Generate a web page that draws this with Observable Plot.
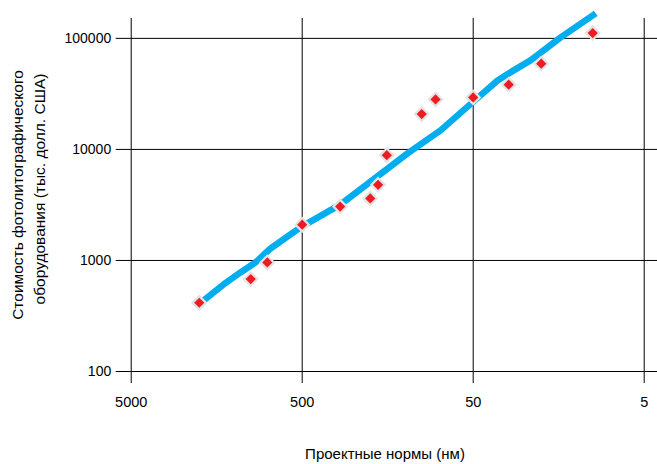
<!DOCTYPE html>
<html>
<head>
<meta charset="utf-8">
<script src="https://cdn.jsdelivr.net/npm/d3@7"></script>
<script src="https://cdn.jsdelivr.net/npm/@observablehq/plot@0.6"></script>
<style>
  html, body { margin: 0; padding: 0; background: #fff; }
  svg { display: block; }
</style>
</head>
<body>
<div id="chart"></div>
<script>
// Data
const nodeNm   = [2000, 1000, 800, 500, 300, 200, 180, 160, 100, 83, 50, 31, 20, 10];
const costKUsd = [416, 680, 960, 2100, 3060, 3620, 4800, 8870, 20800, 28200, 29400, 38300, 59200, 111600];

// Trend line (blue)
const trendNm   = [1888, 1442, 1148, 938, 766, 512, 298, 121, 77.6, 50.5, 36, 29, 23.1, 15.4, 9.6];
const trendCost = [436, 608, 780, 959, 1282, 1983, 3196, 9205, 14830, 26500, 41800, 51500, 63400, 102000, 168000];

const xTicks = [5000, 500, 50, 5];
const xTickLabels = ["5000", "500", "50", "5"];
const yTicks = [100, 1000, 10000, 100000];
const yTickLabels = ["100", "1000", "10000", "100000"];

const xTitle = "Проектные нормы (нм)";
const yTitle1 = "Стоимость фотолитографического";
const yTitle2 = "оборудования (тыс. долл. США)";

const points = nodeNm.map((d, i) => ({nm: d, cost: costKUsd[i]}));
const trend = trendNm.map((d, i) => ({nm: d, cost: trendCost[i]}));
const xTickData = xTicks.map((d, i) => ({v: d, label: xTickLabels[i]}));
const yTickData = yTicks.map((d, i) => ({v: d, label: yTickLabels[i]}));

const svg = Plot.plot({
  width: 657,
  height: 464,
  marginLeft: 130.7,
  marginRight: 0,
  marginTop: 18,
  marginBottom: 93,
  style: {fontFamily: "Liberation Sans, Arial, sans-serif", background: "#fff", color: "#000"},
  x: {type: "log", domain: [5000, 4.18], axis: null},
  y: {type: "log", domain: [100, 151000], axis: null},
  marks: [
    Plot.gridX(xTicks, {stroke: "#000", strokeOpacity: 1, strokeWidth: 1}),
    Plot.gridY(yTicks, {stroke: "#000", strokeOpacity: 1, strokeWidth: 1}),
    Plot.axisX(xTicks, {anchor: "bottom", tickSize: 12, text: null, label: null}),
    Plot.axisY(yTicks, {anchor: "left", tickSize: 15, text: null, label: null}),
    Plot.text(xTickData, {x: "v", text: "label", frameAnchor: "bottom", dy: 25, lineAnchor: "top", fontSize: 14.5, fill: "#000"}),
    Plot.text(yTickData, {y: "v", text: "label", frameAnchor: "left", dx: -20, textAnchor: "end", fontSize: 14, fill: "#000"}),
    Plot.line(trend, {x: "nm", y: "cost", stroke: "#00aeef", strokeWidth: 6.5, strokeLinecap: "butt", strokeLinejoin: "round"}),
    Plot.dot(points, {x: "nm", y: "cost", symbol: "diamond2", r: 7.4, fill: "#e3e3e3", stroke: "none"}),
    Plot.dot(points, {x: "nm", y: "cost", symbol: "diamond2", r: 4.6, fill: "#ed1c24", stroke: "none"})
  ]
});

const s = d3.select(svg);
s.append("text")
  .attr("x", 385).attr("y", 459)
  .attr("text-anchor", "middle")
  .attr("font-size", 15)
  .attr("fill", "#000")
  .text(xTitle);
s.append("text")
  .attr("transform", "translate(23,195) rotate(-90)")
  .attr("text-anchor", "middle")
  .attr("font-size", 15.5)
  .attr("fill", "#000")
  .text(yTitle1);
s.append("text")
  .attr("transform", "translate(45,189) rotate(-90)")
  .attr("text-anchor", "middle")
  .attr("font-size", 15.5)
  .attr("fill", "#000")
  .text(yTitle2);

document.getElementById("chart").appendChild(svg);
</script>
</body>
</html>
